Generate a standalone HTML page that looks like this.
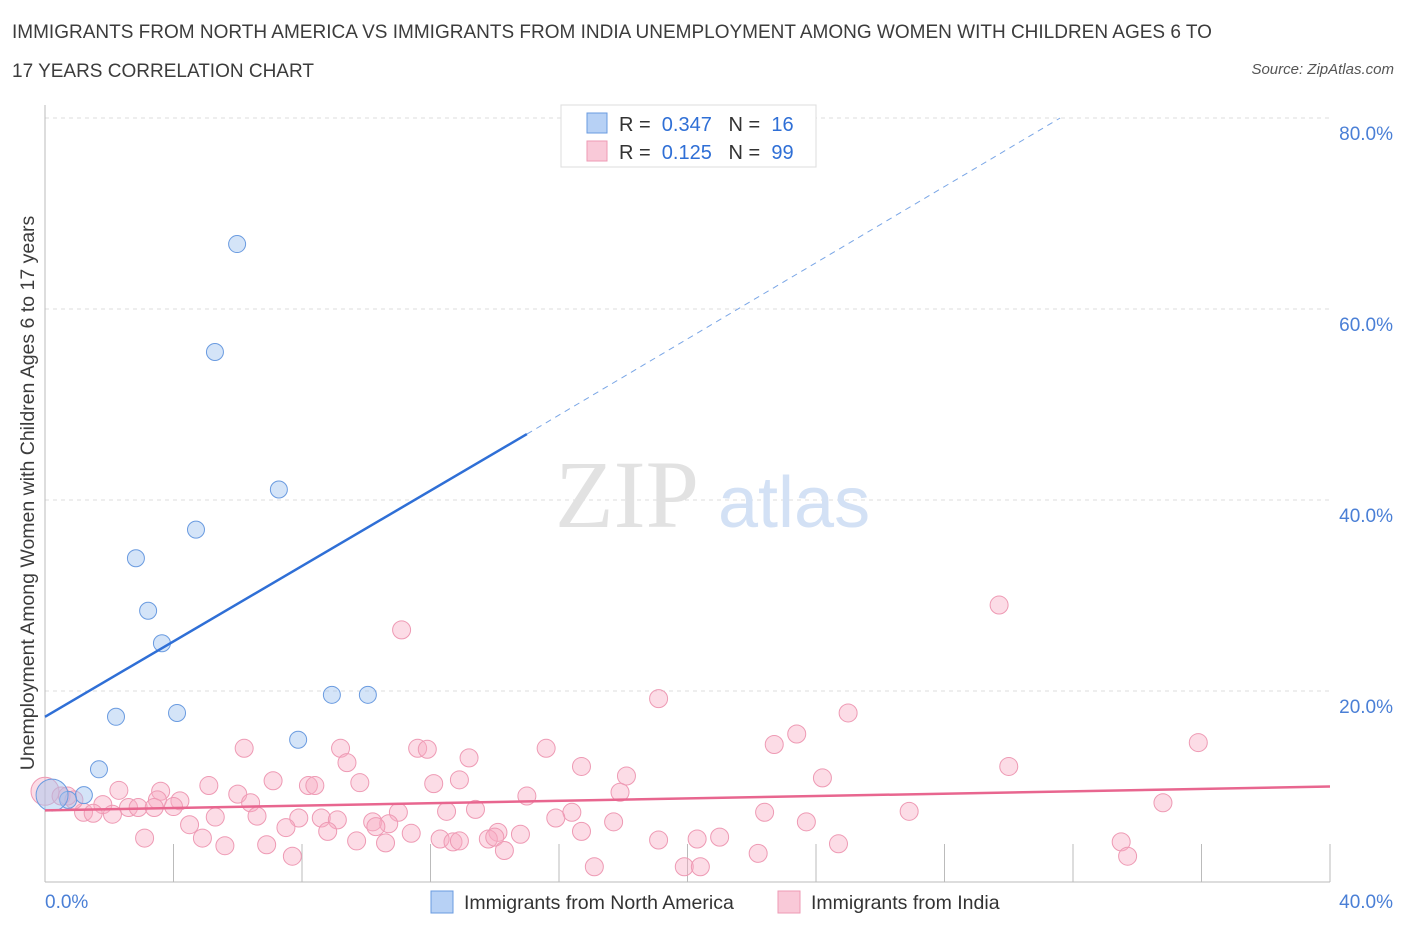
<!DOCTYPE html>
<html><head><meta charset="utf-8"><style>
body{margin:0;background:#fff;font-family:"Liberation Sans",sans-serif;}
#wrap{position:relative;width:1406px;height:930px;overflow:hidden;}
.t{position:absolute;font-size:19px;color:#3c3c3c;}
</style></head><body>
<div id="wrap">
<div class="t" style="left:12px;top:22px">IMMIGRANTS FROM NORTH AMERICA VS IMMIGRANTS FROM INDIA UNEMPLOYMENT AMONG WOMEN WITH CHILDREN AGES 6 TO</div>
<div class="t" style="left:12px;top:61px">17 YEARS CORRELATION CHART</div>
<div class="t" style="right:12px;top:61px;font-size:15px;font-style:italic;color:#555">Source: ZipAtlas.com</div>
<svg id="svg" width="1406" height="930" style="position:absolute;left:0;top:0"></svg>
</div>
<script>
const xTickLabels=["0.0%","40.0%"];
const yTicks=[20,40,60,80];
const naX=[5.98,5.29,7.28,4.70,2.83,3.21,3.64,2.21,4.11,8.93,10.05,7.88,1.68,1.21,0.72,0.22];
const naY=[66.8,55.5,41.1,36.9,33.9,28.4,25.0,17.3,17.7,19.6,19.6,14.9,11.8,9.1,8.6,9.1];
const inX=[11.1,29.7,19.1,25.0,23.4,22.7,35.9,6.2,9.2,11.6,11.9,15.6,13.2,9.4,30.0,16.7,18.1,24.2,12.9,7.1,9.8,8.2,8.4,12.1,5.1,2.3,3.6,6.0,17.9,15.0,4.2,3.5,6.4,1.8,2.6,2.9,3.4,4.0,1.2,1.5,2.1,34.8,11.0,12.5,13.4,16.4,22.4,26.9,5.3,6.6,7.9,8.6,9.1,10.2,10.7,15.9,17.7,23.7,4.5,7.5,8.8,10.3,11.4,14.1,14.8,16.7,3.1,4.9,12.3,12.7,12.9,13.8,14.0,19.1,20.3,21.0,9.7,10.6,5.6,6.9,24.7,33.5,14.3,22.2,7.7,33.7,17.1,19.9,20.4,0.0,0.5,0.9,0.7];
const inY=[26.4,29.0,19.2,17.7,15.5,14.4,14.6,14.0,14.0,14.0,13.9,14.0,13.0,12.5,12.1,12.1,11.1,10.9,10.7,10.6,10.4,10.1,10.1,10.3,10.1,9.6,9.5,9.2,9.4,9.0,8.5,8.6,8.3,8.1,7.8,7.8,7.8,7.9,7.3,7.2,7.1,8.3,7.3,7.4,7.6,7.3,7.3,7.4,6.8,6.9,6.7,6.7,6.5,6.3,6.1,6.7,6.3,6.3,6.0,5.7,5.3,5.8,5.1,5.2,5.0,5.3,4.6,4.6,4.5,4.2,4.3,4.5,4.7,4.4,4.5,4.7,4.3,4.1,3.8,3.9,4.0,4.2,3.3,3.0,2.7,2.7,1.6,1.6,1.6,9.5,9.0,8.6,9.0];
const naLine=[[0,17.3],[15.0,46.9],[31.6,80]];
const inLine=[[0,7.5],[40,10.0]];
const X0=45,X1=1330,Y0=882,Y1=118;
const sx=v=>X0+v/40*(X1-X0), sy=v=>Y0-v/80*(Y0-Y1);
const svg=document.getElementById('svg'),NS='http://www.w3.org/2000/svg';
function mk(tag,attrs,parent){const e=document.createElementNS(NS,tag);for(const k in attrs)e.setAttribute(k,attrs[k]);(parent||svg).appendChild(e);return e;}
yTicks.forEach(t=>{
 const g=mk('line',{x1:X0,x2:X1,y1:sy(t),y2:sy(t),stroke:'#ddd','stroke-dasharray':'4,4'});
 
 
 const tx=mk('text',{x:1393,y:sy(t)+22,'text-anchor':'end','font-size':19,fill:'#4a7fd6'});tx.textContent=t.toFixed(1)+'%';
 
 
});
const ya=mk('line',{x1:X0,x2:X0,y1:105,y2:Y0,stroke:'#bbb'});

const xa=mk('line',{x1:X0,x2:X1,y1:Y0,y2:Y0,stroke:'#bbb'});

for(let i=1;i<=10;i++){const tk=mk('line',{x1:sx(i*4),x2:sx(i*4),y1:Y0,y2:Y0-38,stroke:'#bbb'});
 }
const xl0=mk('text',{x:45,y:908,'font-size':19,fill:'#4a7fd6'});xl0.textContent=xTickLabels[0];

const xl1=mk('text',{x:1393,y:908,'font-size':19,fill:'#4a7fd6','text-anchor':'end'});xl1.textContent=xTickLabels[1];

const yt=mk('text',{x:34,y:493,'font-size':19.5,fill:'#3c3c3c','text-anchor':'middle',transform:'rotate(-90 34 493)'});
yt.textContent='Unemployment Among Women with Children Ages 6 to 17 years';

const wm=mk('text',{x:555,y:527,'font-size':96,fill:'#e2e2e2','font-family':'Liberation Serif'});wm.textContent='ZIP';

const wm2=mk('text',{x:718,y:527,'font-size':72,fill:'#d3e1f5'});wm2.textContent='atlas';

inX.forEach((x,i)=>{const big=(i==inX.length-4);
 const c=mk('circle',{cx:sx(x),cy:sy(inY[i]),r:big?14:9,fill:'rgba(247,172,195,0.42)',stroke:'#ee9ab4','stroke-width':1});
 });
naX.forEach((x,i)=>{const big=i==naX.length-1;
 const c=mk('circle',{cx:sx(x),cy:sy(naY[i]),r:big?16:8.5,fill:'rgba(160,195,240,0.45)',stroke:'#6a9be0','stroke-width':1});
 });
const l1=mk('line',{x1:sx(naLine[0][0]),y1:sy(naLine[0][1]),x2:sx(naLine[1][0]),y2:sy(naLine[1][1]),stroke:'#2f6fd6','stroke-width':2.5});

const l2=mk('line',{x1:sx(naLine[1][0]),y1:sy(naLine[1][1]),x2:sx(naLine[2][0]),y2:sy(naLine[2][1]),stroke:'#7aa6e6','stroke-width':1,'stroke-dasharray':'6,5'});

const l3=mk('line',{x1:sx(inLine[0][0]),y1:sy(inLine[0][1]),x2:sx(inLine[1][0]),y2:sy(inLine[1][1]),stroke:'#e8668f','stroke-width':2.5});

const lg=mk('rect',{x:561,y:105,width:255,height:62,fill:'#fff',stroke:'#ddd'});

[[0,'#b7d1f5','#6a9be0','0.347','16'],[1,'#f9c9d8','#ee9ab4','0.125','99']].forEach(([k,f,s,r,n])=>{
 const y=113+k*28;
 const sq=mk('rect',{x:587,y:y,width:20,height:20,fill:f,stroke:s});
 
 const t=mk('text',{x:619,y:y+18,'font-size':20,fill:'#333'});
 t.innerHTML='R = <tspan fill="#2f6fd6"> '+r+'</tspan>   N = <tspan fill="#2f6fd6"> '+n+'</tspan>';
 t.style.whiteSpace='pre';
 
});
[[431,'#b7d1f5','#6a9be0','Immigrants from North America'],[778,'#f9c9d8','#ee9ab4','Immigrants from India']].forEach(([x,f,s,l])=>{
 const sq=mk('rect',{x:x,y:891,width:22,height:22,fill:f,stroke:s});
 
 const t=mk('text',{x:x+33,y:909,'font-size':19.5,fill:'#333'});t.textContent=l;
 
});
</script>
</body></html>
